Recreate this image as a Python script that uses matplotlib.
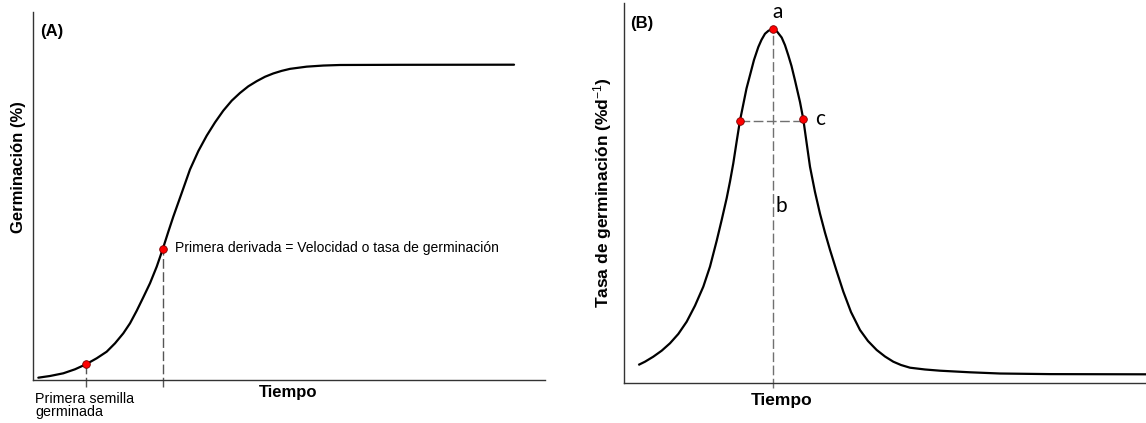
import matplotlib
matplotlib.use("Agg")
import matplotlib.pyplot as plt

plt.rcParams["font.family"] = ["Liberation Sans", "DejaVu Sans"]
plt.rcParams["mathtext.fontset"] = "custom"
plt.rcParams["mathtext.rm"] = "Liberation Sans"
plt.rcParams["mathtext.it"] = "Liberation Sans:italic"
plt.rcParams["mathtext.bf"] = "Liberation Sans:bold"

# (A) germinacion acumulada
tiempo_a = [1.04, 3.32, 5.92, 8.20, 10.35, 12.44, 14.39, 16.02, 17.64, 18.95,
            20.25, 21.54, 22.85, 24.16, 25.33, 26.43, 27.40, 29.04, 30.66,
            32.29, 33.93, 35.55, 37.17, 38.81, 40.43, 42.05, 43.69, 45.31,
            46.93, 48.56, 50.20, 53.46, 56.70, 59.96, 71.68, 93.95]
germ_a = [0.63, 1.09, 1.82, 2.91, 4.27, 5.90, 7.69, 9.97, 12.69, 15.41,
          18.80, 22.47, 26.28, 30.79, 35.52, 40.30, 44.38, 50.80, 57.20,
          62.20, 66.40, 70.00, 73.20, 75.90, 78.00, 79.80, 81.20, 82.40,
          83.30, 84.00, 84.55, 85.15, 85.45, 85.60, 85.65, 85.68]
puntos_a_x = [10.35, 25.33]
puntos_a_y = [4.27, 35.52]

# (B) tasa de germinacion
tiempo_b = [2.74, 4.02, 5.61, 7.22, 8.81, 10.40, 12.01, 13.60, 15.19, 16.48,
            17.76, 18.72, 19.67, 20.31, 20.94, 21.59, 22.20, 22.85, 23.47,
            24.14, 24.90, 25.73, 26.34, 27.01, 27.68, 28.45, 29.31, 30.21,
            30.84, 31.48, 32.09, 32.76, 33.72, 34.35, 34.96, 35.63, 36.59,
            37.55, 38.51, 39.46, 40.71, 42.01, 43.49, 45.21, 46.74, 48.41,
            50.00, 51.59, 53.07, 54.79, 57.66, 60.54, 66.28, 72.03, 81.61,
            100.0]
tasa_b = [4.66, 5.53, 6.85, 8.43, 10.38, 12.83, 16.07, 20.28, 25.28, 30.60,
          37.40, 42.90, 48.60, 53.00, 57.80, 63.60, 68.90, 73.30, 77.50,
          81.00, 85.00, 88.40, 90.30, 91.90, 92.70, 93.07, 92.50, 90.90,
          88.90, 86.20, 83.40, 79.60, 73.90, 69.37, 63.39, 56.89, 50.22,
          44.50, 39.50, 35.00, 29.50, 24.00, 18.60, 13.88, 10.98, 8.61,
          6.90, 5.53, 4.66, 3.95, 3.48, 3.16, 2.74, 2.42, 2.26, 2.21]
pico_b = (28.45, 93.07)
mitad_b_x = [22.20, 34.35]
mitad_b_y = [68.90, 69.37]

W, H = 1146, 423
fig = plt.figure(figsize=(W / 100, H / 100), dpi=100)


def px_axes(left, top, right, bottom):
    return fig.add_axes([left / W, 1 - bottom / H, (right - left) / W,
                         (bottom - top) / H])


def style(ax):
    for s in ["top", "right"]:
        ax.spines[s].set_visible(False)
    for s in ["left", "bottom"]:
        ax.spines[s].set_color("#333333")
        ax.spines[s].set_linewidth(1.0)
    ax.set_xticks([])
    ax.set_yticks([])
    ax.set_xlim(0, 100)
    ax.set_ylim(0, 100)


dash = (0, (7, 2.5))
red = dict(marker="o", ms=5.5, mfc="#ff0000", mec="#7a0000", mew=0.6,
           ls="none", zorder=5, clip_on=False)

ax1 = px_axes(33, 12, 545, 380)
style(ax1)
ax1.vlines(puntos_a_x, -1.9, puntos_a_y, colors="#555555", lw=1.0,
           linestyles=dash, clip_on=False)
ax1.plot(tiempo_a, germ_a, color="black", lw=1.6, zorder=3,
         solid_joinstyle="round", solid_capstyle="round")
ax1.plot(puntos_a_x, puntos_a_y, **red)
ax1.text(1.4, 93.5, "(A)", fontsize=12, fontweight="bold", va="baseline")
ax1.text(27.7, 34.7, "Primera derivada = Velocidad o tasa de germinación",
         fontsize=10, va="baseline")
ax1.text(0.4, -6.2, "Primera semilla", fontsize=10.3, va="baseline",
         clip_on=False)
ax1.text(0.4, -9.8, "germinada", fontsize=10.3, va="baseline", clip_on=False)
ax1.text(49.9, -4.6, "Tiempo", fontsize=12, fontweight="bold",
         ha="center", va="baseline")
ax1.text(-0.029, 0.579, "Germinación (%)", transform=ax1.transAxes,
         rotation=90, fontsize=12, fontweight="bold", ha="center", va="center")

ax2 = px_axes(624, 3, 1146, 382.7)
style(ax2)
ax2.vlines([pico_b[0]], -1.4, pico_b[1], colors="#707070", lw=1.0,
           linestyles=dash, clip_on=False)
ax2.hlines([mitad_b_y[0]], mitad_b_x[0], mitad_b_x[1], colors="#707070",
           lw=1.0, linestyles=dash)
ax2.plot(tiempo_b, tasa_b, color="black", lw=1.6, zorder=3,
         solid_joinstyle="round", solid_capstyle="butt")
ax2.plot([mitad_b_x[0], pico_b[0], mitad_b_x[1]],
         [mitad_b_y[0], pico_b[1], mitad_b_y[1]], **red)
lbl = dict(fontsize=15, family=["Lato", "DejaVu Sans"], va="baseline")
ax2.text(29.5, 96.0, "a", ha="center", **lbl)
ax2.text(29.0, 45.0, "b", ha="left", **lbl)
ax2.text(36.6, 67.9, "c", ha="left", **lbl)
ax2.text(0.0115, 0.933, "(B)", transform=ax2.transAxes, fontsize=12,
         fontweight="bold", va="baseline")
ax2.text(0.301, -0.0587, "Tiempo", transform=ax2.transAxes, fontsize=12.5,
         fontweight="bold", ha="center", va="baseline")
ax2.text(-0.042, 0.502, r"Tasa de germinación (%d$^{-1}$)",
         transform=ax2.transAxes, rotation=90, fontsize=12.5,
         fontweight="bold", ha="center", va="center")

fig.savefig("out.png", dpi=100)
